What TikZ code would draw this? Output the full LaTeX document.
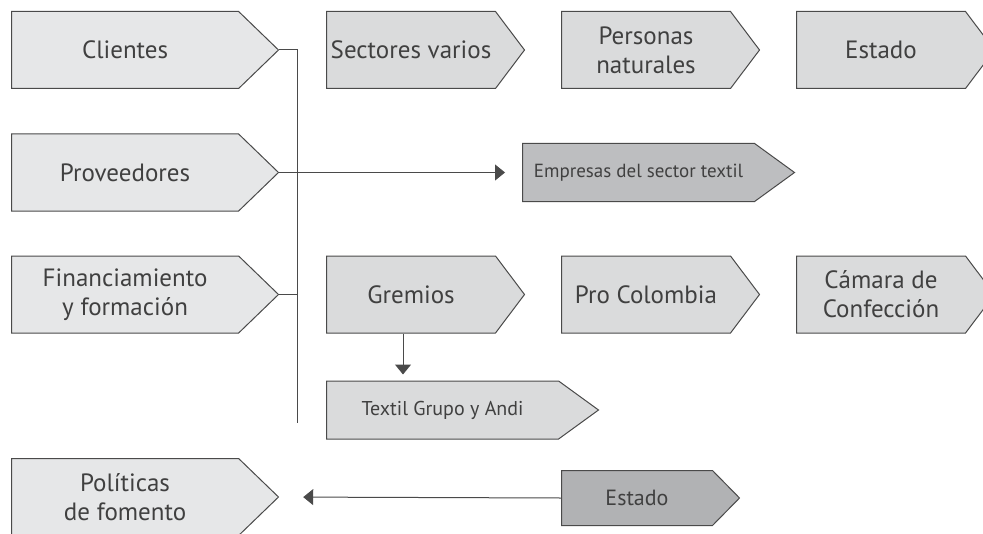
\documentclass[tikz,border=0pt]{standalone}
\usepackage{fontspec}
\setmainfont{PT Sans}
\usetikzlibrary{arrows.meta,shapes.symbols,calc}

\definecolor{txtgray}{HTML}{404040}
\definecolor{linegray}{HTML}{4A4A4A}
\definecolor{fillA}{HTML}{E6E7E8}
\definecolor{fillB}{HTML}{DADBDC}
\definecolor{fillC}{HTML}{BDBEC0}
\definecolor{fillD}{HTML}{B1B2B4}

\begin{document}
\begin{tikzpicture}[
    x=0.5pt, y=-0.5pt,
    box/.style={signal, signal to=east, draw=linegray, line width=0.5pt,
        anchor=west, inner sep=0pt, align=center, text=txtgray,
        font=\fontsize{12.5}{14.5}\selectfont},
    sidebox/.style={box, fill=fillA, minimum width=133.5pt, minimum height=38.5pt, signal pointer angle=88},
    rowbox/.style={box, fill=fillB, minimum width=99pt, minimum height=38.5pt, signal pointer angle=106},
    smallbox/.style={box, minimum width=136pt, minimum height=29pt, signal pointer angle=72,
        font=\fontsize{9.5}{11}\selectfont},
    arrow/.style={-{Triangle[length=5pt,width=8pt]}, draw=linegray, line width=0.5pt},
    line/.style={draw=linegray, line width=0.5pt}
]
\useasboundingbox (0,0) rectangle (983,534);

% Left column
\node[sidebox] (clientes) at (11,50) {Clientes};
\node[sidebox] (proveedores) at (11,172.5) {Proveedores};
\node[sidebox] (financ) at (11,294.5) {Financiamiento\\y formación};
\node[sidebox] (politicas) at (11,497) {Políticas\\de fomento};

% Clients
\node[rowbox] (sectores) at (326,50) {Sectores varios};
\node[rowbox] (personas) at (561,50) {Personas\\naturales};
\node[rowbox] (estadoA) at (796,50) {Estado};

% Suppliers
\node[smallbox, fill=fillC] (empresas) at (522,172.5) {Empresas del sector textil};

% Financing
\node[rowbox] (gremios) at (326,294.5) {Gremios};
\node[rowbox] (procol) at (561,294.5) {Pro Colombia};
\node[rowbox] (camara) at (796,294.5) {Cámara de\\Confección};
\node[smallbox, fill=fillB, font=\fontsize{10}{12}\selectfont] (textil) at (326,410) {Textil Grupo y Andi};

% Policies
\node[box, fill=fillD, minimum width=89pt, minimum height=27.5pt, signal pointer angle=91,
    font=\fontsize{11}{13}\selectfont] (estadoB) at (561,498) {Estado};

% Connections
\coordinate (bustop) at (297,50);
\coordinate (busbot) at (297,423);
\draw[line] (clientes.east) -- (bustop) -- (busbot);
\draw[line] (financ.east) -- (financ.east -| bustop);
\draw[arrow, shorten >=8.5pt] (proveedores.east) -- (empresas.west);
\draw[arrow, shorten >=3pt] ($(gremios.south west)+(77,0)$) -- ($(textil.north west)+(77,0)$);
\draw[arrow, shorten >=12pt] (estadoB.west) -- (politicas.east);

\end{tikzpicture}
\end{document}
